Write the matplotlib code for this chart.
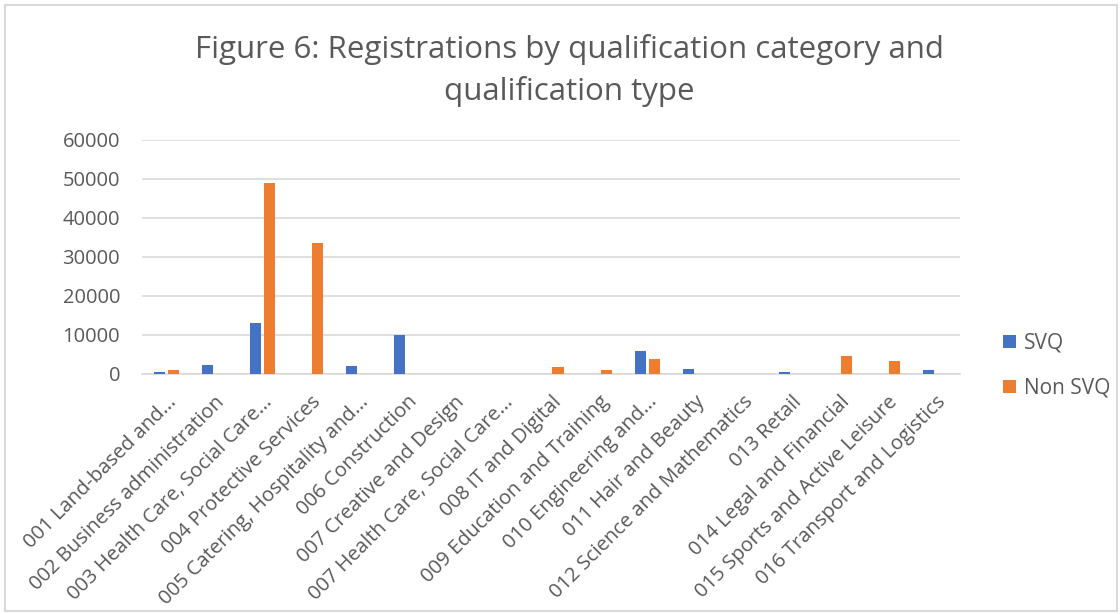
import numpy as np
import matplotlib
matplotlib.use('Agg')
import matplotlib.pyplot as plt
from matplotlib.patches import Rectangle

categories = ['001 Land-based and...', '002 Business administration', '003 Health Care, Social Care...',
              '004 Protective Services', '005 Catering, Hospitality and...', '006 Construction',
              '007 Creative and Design', '007 Health Care, Social Care...', '008 IT and Digital',
              '009 Education and Training', '010 Engineering and...', '011 Hair and Beauty',
              '012 Science and Mathematics', '013 Retail', '014 Legal and Financial',
              '015 Sports and Active Leisure', '016 Transport and Logistics']
svq = [400, 2400, 13000, 0, 2000, 9900, 0, 0, 0, 0, 5800, 1300, 0, 450, 0, 0, 1000]
non_svq = [1000, 0, 49000, 33700, 0, 0, 0, 0, 1700, 1000, 3900, 0, 0, 0, 4600, 3300, 0]
yticks = [0, 10000, 20000, 30000, 40000, 50000, 60000]

plt.rcParams['font.family'] = ['Open Sans', 'DejaVu Sans']
grey = '#595959'

fig = plt.figure(figsize=(11.2, 6.14), dpi=100)
ax = fig.add_axes([0.127, 0.391, 0.730, 0.381])

x = np.arange(len(categories))
w = 0.23
ax.bar(x - 0.145, svq, w, color='#4472C4', label='SVQ', zorder=3)
ax.bar(x + 0.145, non_svq, w, color='#ED7D31', label='Non SVQ', zorder=3)

ax.set_xlim(-0.5, len(categories) - 0.5)
ax.set_ylim(0, 60000)
ax.set_yticks(yticks)
ax.set_yticklabels([str(v) for v in yticks], fontsize=14.5, color=grey)
ax.yaxis.grid(True, color='#D9D9D9', lw=1.2, zorder=0)
ax.set_xticks(x)
ax.set_xticklabels(categories, rotation=45, ha='right', rotation_mode='anchor',
                   fontsize=14.5, color=grey)
ax.tick_params(axis='x', length=0, pad=13)
ax.tick_params(axis='y', length=0, pad=16)
for s in ['top', 'right', 'left']:
    ax.spines[s].set_visible(False)
ax.spines['bottom'].set_color('#D9D9D9')
ax.spines['bottom'].set_linewidth(1.2)

fig.text(0.508, 0.885, 'Figure 6: Registrations by qualification category and\nqualification type',
         ha='center', va='center', fontsize=22.5, color=grey, linespacing=1.45)

leg = ax.legend(loc='center left', bbox_to_anchor=(1.03, 0.035), frameon=False,
                fontsize=15, handlelength=0.6, handleheight=0.6, handletextpad=0.4,
                labelspacing=1.15, labelcolor=grey)

fig.patches.append(Rectangle((5 / 1120, 3 / 614), 1112 / 1120, 606 / 614, transform=fig.transFigure,
                             fill=False, edgecolor='#D9D9D9', lw=1.5))

plt.savefig('out.png', dpi=100)
